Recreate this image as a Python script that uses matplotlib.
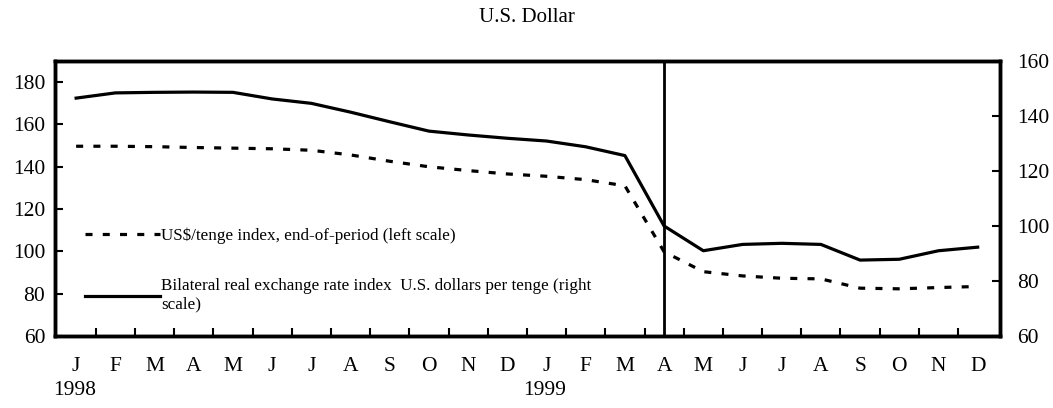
import numpy as np
import matplotlib.pyplot as plt
import matplotlib.transforms as mtransforms

plt.rcParams['font.family'] = ['Liberation Serif', 'DejaVu Serif']

months = ['J', 'F', 'M', 'A', 'M', 'J', 'J', 'A', 'S', 'O', 'N', 'D',
          'J', 'F', 'M', 'A', 'M', 'J', 'J', 'A', 'S', 'O', 'N', 'D']
years = ['1998', '1999']
year_pos = [0, 12]

# US$/tenge index, end-of-period (left scale)
usd_tenge = [149.7, 149.7, 149.5, 149.1, 148.8, 148.5, 147.8, 145.6,
             142.6, 140.0, 138.2, 136.6, 135.5, 133.9, 131.0, 99.8,
             90.4, 88.4, 87.3, 87.0, 82.6, 82.3, 82.9, 83.4]
# Bilateral real exchange rate index (right scale)
real_rate = [146.5, 148.4, 148.6, 148.7, 148.6, 146.2, 144.6, 141.4,
             137.9, 134.5, 133.1, 131.9, 130.9, 128.8, 125.6, 100.0,
             91.0, 93.3, 93.7, 93.3, 87.6, 87.9, 91.0, 92.3]
event_month = 15

x = np.arange(len(months))

fig = plt.figure(figsize=(10.53, 4.08), dpi=100)
ax = fig.add_axes([0.0522, 0.1765, 0.8975, 0.674])
ax2 = ax.twinx()

l1, = ax.plot(x, usd_tenge, color='black', lw=2.3, linestyle=(0, (2.2, 3.2)))
l2, = ax2.plot(x, real_rate, color='black', lw=2.3)
ax.axvline(event_month, color='black', lw=2)

ax.set_xlim(-0.54, 23.57)
ax.set_ylim(60, 190)
ax2.set_ylim(60, 160)
ax.set_yticks(np.arange(60, 181, 20))
ax2.set_yticks(np.arange(60, 161, 20))

ax.set_xticks(x)
ax.set_xticklabels(months)
ax.set_xticks(x[:-1] + 0.5, minor=True)
ax.tick_params(axis='x', which='major', length=0, pad=15, labelsize=15.5)
ax.tick_params(axis='x', which='minor', direction='in', length=6, width=1.5)
ax.tick_params(axis='y', direction='in', length=6, width=1.5, labelsize=15.5, pad=7)
ax2.tick_params(axis='y', direction='in', length=6, width=1.5, labelsize=15.5, pad=12)

for a in (ax, ax2):
    for s in a.spines.values():
        s.set_linewidth(2.5)

trans = mtransforms.blended_transform_factory(ax.transData, ax.transAxes)
for yr, xp in zip(years, year_pos):
    ax.text(xp - 0.05, -0.165, yr, transform=trans, ha='center', va='top', fontsize=15.5)

ax.legend([l1, l2],
          ['US$/tenge index, end-of-period (left scale)',
           'Bilateral real exchange rate index  U.S. dollars per tenge (right\nscale)'],
          loc='upper left', bbox_to_anchor=(0.015, 0.45), frameon=False,
          fontsize=12.3, handlelength=4.4, handletextpad=0.1, labelspacing=2.0)

fig.suptitle('U.S. Dollar', y=0.958, va='center', fontsize=15)

fig.savefig('out.png', dpi=100)
